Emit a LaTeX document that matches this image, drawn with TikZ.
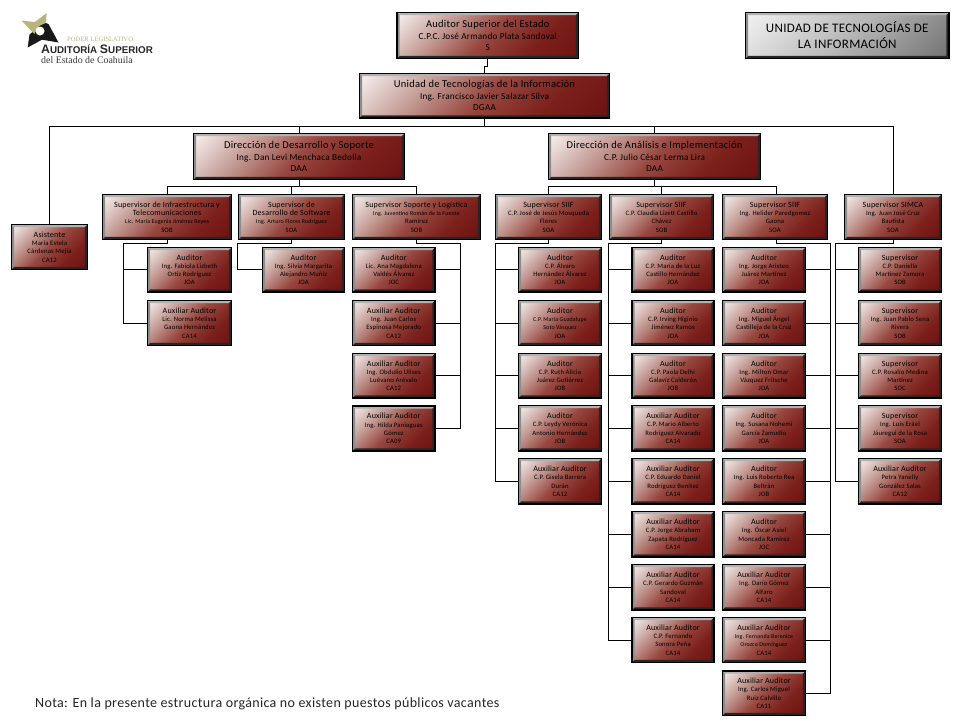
\documentclass[tikz,border=0pt]{standalone}
\usepackage{fontspec}
\setmainfont{Carlito}[LetterSpace=2.5]
\newfontfamily\logoserif{Liberation Serif}
\newfontfamily\logosans{Liberation Sans}
\usepackage{xcolor}
\definecolor{grA}{HTML}{F8F2F1}
\definecolor{grB}{HTML}{C39A93}
\definecolor{grC}{HTML}{984840}
\definecolor{grD}{HTML}{7C201C}
\definecolor{grE}{HTML}{6C1210}
\definecolor{logoOlive}{HTML}{B7B47C}
\definecolor{logoText}{HTML}{3A3A3A}
\pgfdeclarehorizontalshading{redgrad}{100bp}{color(0bp)=(grA); color(15bp)=(grA); color(34bp)=(grB); color(50bp)=(grC); color(68bp)=(grD); color(85bp)=(grE); color(100bp)=(grE)}
\pgfdeclarehorizontalshading{graygrad}{100bp}{color(0bp)=(white!95!black); color(15bp)=(white!95!black); color(50bp)=(black!28); color(85bp)=(black!55); color(100bp)=(black!55)}
\tikzset{
  bevel/.style={path picture={
    \fill[black!30] (path picture bounding box.north west) -- (path picture bounding box.north east) -- ([shift={(-2.6pt,-2.6pt)}]path picture bounding box.north east) -- ([shift={(2.6pt,-2.6pt)}]path picture bounding box.north west) -- cycle;
    \fill[black!45] (path picture bounding box.north west) -- (path picture bounding box.south west) -- ([shift={(2.6pt,2.6pt)}]path picture bounding box.south west) -- ([shift={(2.6pt,-2.6pt)}]path picture bounding box.north west) -- cycle;
    \fill[black!85] (path picture bounding box.south west) -- (path picture bounding box.south east) -- ([shift={(-2.6pt,2.6pt)}]path picture bounding box.south east) -- ([shift={(2.6pt,2.6pt)}]path picture bounding box.south west) -- cycle;
    \fill[black!85] (path picture bounding box.north east) -- (path picture bounding box.south east) -- ([shift={(-2.6pt,2.6pt)}]path picture bounding box.south east) -- ([shift={(-2.6pt,-2.6pt)}]path picture bounding box.north east) -- cycle;
  }},
  orgbox/.style={draw=black,line width=1.1pt,shading=redgrad,shading angle=-45,inner sep=0pt,align=center,text=black,bevel,font=\fontsize{6.7}{8.2}\selectfont},
  bigbox/.style={orgbox,font=\fontsize{9.2}{11.6}\selectfont},
  graybox/.style={draw=black,line width=1.1pt,shading=graygrad,shading angle=-45,inner sep=0pt,align=center,text=black,bevel,font=\fontsize{13}{16}\selectfont},
  conn/.style={draw=black,line width=0.95pt,line join=miter}
}
% box given by its pixel edges
\newcommand\ob[7][orgbox]{\node[#1,minimum width={(#5-#3)*1pt},minimum height={(#6-#4)*1pt}] (#2) at ({(#3+#5)/2},{(#4+#6)/2}) {#7};}
\newcommand\ttl[1]{{\fontsize{8}{8.2}\selectfont #1}}
\newcommand\bigt[1]{{\fontsize{10.5}{11.6}\selectfont #1}}
\newcommand\nrw[1]{{\fontsize{5.9}{8.2}\selectfont #1}}
\begin{document}
\begin{tikzpicture}[x=1pt,y=-1pt]
\fill[white] (0,0) rectangle (960,720);
\useasboundingbox (0,0) rectangle (960,720);
% logo
\fill[black!90] (43,22) -- (48.5,24) -- (58.5,42.5) -- (42,39.7) -- (27.7,47.5) -- (29.5,34.5) -- (35,30) -- cycle;
\fill[logoOlive] (21.7,20.7) -- (35,22) -- (46.7,13) -- (45.7,23) -- (38.3,26.3) -- (34.3,34) -- cycle;
\fill[white] (40,31) circle (4.5);
\node[inner sep=0pt,anchor=base west,text=logoOlive,font=\logoserif\fontsize{6.6}{7}\selectfont] (lg1) at (67,41) {PODER LEGISLATIVO};
\node[inner sep=0pt,anchor=base west,text=black!85,font=\logosans\bfseries] (lg2) at (41,53.5) {\fontsize{12.3}{12}\selectfont A\fontsize{9.8}{12}\selectfont UDITORÍA \fontsize{12.3}{12}\selectfont S\fontsize{9.8}{12}\selectfont UPERIOR};
\node[inner sep=0pt,anchor=base west,text=logoText,font=\logoserif\fontsize{9.9}{10}\selectfont] (lg3) at (41,63) {del Estado de Coahuila};
% top boxes
\ob[bigbox]{aud}{397}{12.5}{578.5}{58.5}{\bigt{Auditor Superior del Estado}\\C.P.C. José Armando Plata Sandoval\\S}
\ob[bigbox]{uni}{359.5}{73.5}{609.5}{118}{\bigt{Unidad de Tecnologías de la Información}\\Ing. Francisco Javier Salazar Silva\\DGAA}
\ob[bigbox]{dds}{193.5}{133.5}{404.5}{179.5}{\bigt{Dirección de Desarrollo y Soporte}\\Ing. Dan Levi Menchaca Bedolla\\DAA}
\ob[bigbox]{dai}{548.5}{133.5}{760.5}{179.5}{\bigt{Dirección de Análisis e Implementación}\\C.P. Julio César Lerma Lira\\DAA}
\ob[graybox]{tit}{745.5}{12.5}{949}{58.5}{UNIDAD DE TECNOLOGÍAS DE\\LA INFORMACIÓN}
% asistente
\ob{asi}{11.5}{224.5}{87.5}{269.5}{\ttl{Asistente}\\María Estela\\Cárdenas Mejía\\CA12}
% supervisors
\ob{sinf}{102.5}{194.5}{231.5}{239.5}{\ttl{Supervisor de Infraestructura y}\\\ttl{Telecomunicaciones}\\\nrw{Lic. María Eugenia Jiménez Reyes}\\SOB}
\ob{sdes}{238.5}{194.5}{344.5}{239.5}{\ttl{Supervisor de}\\\ttl{Desarrollo de Software}\\\nrw{Ing. Arturo Flores Rodríguez}\\SOA}
\ob{ssop}{352.5}{194.5}{480.5}{239.5}{\ttl{Supervisor Soporte y Logística}\\\nrw{Ing. Juventino Román de la Fuente}\\Ramírez\\SOB}
\ob{ssa}{495.5}{194.5}{601.5}{239.5}{\ttl{Supervisor SIIF}\\C.P. José de Jesús Mosqueda\\Flores\\SOA}
\ob{ssb}{609.5}{194.5}{713.5}{239.5}{\ttl{Supervisor SIIF}\\C.P. Claudia Lizett Castillo\\Chávez\\SOB}
\ob{ssc}{722.5}{194.5}{827.5}{239.5}{\ttl{Supervisor SIIF}\\Ing. Helider Paredgomez\\Gaona\\SOA}
\ob{ssm}{844.5}{194.5}{941.5}{239.5}{\ttl{Supervisor SIMCA}\\Ing. Juan José Cruz\\Bautista\\SOA}
% infraestructura
\ob{a1}{147.5}{247.5}{231.5}{292}{\ttl{Auditor}\\Ing. Fabiola Lizbeth\\Ortiz Rodríguez\\JOA}
\ob{a2}{147.5}{300.5}{231.5}{345.5}{\ttl{Auxiliar Auditor}\\Lic. Norma Melissa\\Gaona Hernández\\CA14}
% desarrollo
\ob{b1}{262.5}{247.5}{344.5}{292}{\ttl{Auditor}\\Ing. Silvia Margarita\\Alejandro Muñiz\\JOA}
% soporte
\ob{c1}{352.5}{247.5}{435}{292}{\ttl{Auditor}\\Lic. Ana Magdalena\\Valdés Álvarez\\JOC}
\ob{c2}{352.5}{300.5}{435}{345.5}{\ttl{Auxiliar Auditor}\\Ing. Juan Carlos\\Espinosa Mejorado\\CA12}
\ob{c3}{352.5}{353.5}{435}{398}{\ttl{Auxiliar Auditor}\\Ing. Obdulio Ulises\\Luévano Arévalo\\CA12}
\ob{c4}{352.5}{406}{435}{451}{\ttl{Auxiliar Auditor}\\Ing. Hilda Paniaguas\\Gómez\\CA09}
% SIIF 1
\ob{d1}{518.5}{247.5}{601.5}{292}{\ttl{Auditor}\\C.P. Álvaro\\Hernández Álvarez\\JOA}
\ob{d2}{518.5}{300.5}{601.5}{345.5}{\ttl{Auditor}\\\nrw{C.P. María Guadalupe}\\\nrw{Soto Vásquez}\\JOA}
\ob{d3}{518.5}{353.5}{601.5}{398}{\ttl{Auditor}\\C.P. Ruth Alicia\\Juárez Gutiérrez\\JOB}
\ob{d4}{518.5}{405.5}{601.5}{451}{\ttl{Auditor}\\C.P. Leydy Verónica\\Antonio Hernández\\JOB}
\ob{d5}{518.5}{458.5}{601.5}{504}{\ttl{Auxiliar Auditor}\\C.P. Gisela Barrera\\Durán\\CA12}
% SIIF 2
\ob{e1}{632}{247.5}{714}{292}{\ttl{Auditor}\\C.P. María de la Luz\\Castillo Hernández\\JOA}
\ob{e2}{632}{300.5}{714}{345.5}{\ttl{Auditor}\\C.P. Irving Higinio\\Jiménez Ramos\\JOA}
\ob{e3}{632}{353.5}{714}{398}{\ttl{Auditor}\\C.P. Paola Delhi\\Galavíz Calderón\\JOB}
\ob{e4}{632}{405.5}{714}{451}{\ttl{Auxiliar Auditor}\\C.P. Mario Alberto\\Rodríguez Alvarado\\CA14}
\ob{e5}{632}{458.5}{714}{504}{\ttl{Auxiliar Auditor}\\C.P. Eduardo Daniel\\Rodríguez Benítez\\CA14}
\ob{e6}{632}{511.5}{714}{557}{\ttl{Auxiliar Auditor}\\C.P. Jorge Abraham\\Zapata Rodríguez\\CA14}
\ob{e7}{632}{564.5}{714}{610}{\ttl{Auxiliar Auditor}\\C.P. Gerardo Guzmán\\Sandoval\\CA14}
\ob{e8}{632}{617.5}{714}{662.5}{\ttl{Auxiliar Auditor}\\C.P. Fernando\\Sonora Peña\\CA14}
% SIIF 3
\ob{f1}{722.5}{247.5}{805.5}{292}{\ttl{Auditor}\\Ing. Jorge Aristeo\\Juárez Martínez\\JOA}
\ob{f2}{722.5}{300.5}{805.5}{345.5}{\ttl{Auditor}\\Ing. Miguel Ángel\\Castilleja de la Cruz\\JOA}
\ob{f3}{722.5}{353.5}{805.5}{398}{\ttl{Auditor}\\Ing. Milton Omar\\Vázquez Fritsche\\JOA}
\ob{f4}{722.5}{405.5}{805.5}{451}{\ttl{Auditor}\\Ing. Susana Nohemí\\García Zamudio\\JOA}
\ob{f5}{722.5}{458.5}{805.5}{504}{\ttl{Auditor}\\Ing. Luis Roberto Rea\\Beltrán\\JOB}
\ob{f6}{722.5}{511.5}{805.5}{557}{\ttl{Auditor}\\Ing. Óscar Asiel\\Moncada Ramírez\\JOC}
\ob{f7}{722.5}{564.5}{805.5}{610}{\ttl{Auxiliar Auditor}\\Ing. Darío Gómez\\Alfaro\\CA14}
\ob{f8}{722.5}{617.5}{805.5}{662.5}{\ttl{Auxiliar Auditor}\\\nrw{Ing. Fernanda Berenice}\\\nrw{Orozco Domínguez}\\CA14}
\ob{f9}{722.5}{671}{805.5}{715.5}{\ttl{Auxiliar Auditor}\\Ing. Carlos Miguel\\Ruiz Calvillo\\CA11}
% SIMCA
\ob{g1}{858.5}{247.5}{941.5}{292}{\ttl{Supervisor}\\C.P. Daniella\\Martínez Zamora\\SOB}
\ob{g2}{858.5}{300.5}{941.5}{345.5}{\ttl{Supervisor}\\Ing. Juan Pablo Sena\\Rivera\\SOB}
\ob{g3}{858.5}{353.5}{941.5}{398}{\ttl{Supervisor}\\C.P. Rosalío Medina\\Martínez\\SOC}
\ob{g4}{858.5}{405.5}{941.5}{451}{\ttl{Supervisor}\\Ing. Luis Eráel\\Jáuregui de la Rosa\\SOA}
\ob{g5}{858.5}{458.5}{941.5}{504}{\ttl{Auxiliar Auditor}\\Petra Yanelly\\González Salas\\CA12}
% nota
\node[inner sep=0pt,anchor=base west,text=black!85,font=\fontsize{14}{16}\selectfont] (nota) at (35,707) {Nota: En la presente estructura orgánica no existen puestos públicos vacantes};
% bus and trunk coordinates
\coordinate (jog) at (486,66.5);
\coordinate (bus) at (485,126.5);
\coordinate (busL) at (299,186.5);
\coordinate (busR) at (654,186.5);
\coordinate (tA) at (123.5,243.5);
\coordinate (tB) at (237.5,243.5);
\coordinate (tC) at (460.5,243.5);
\coordinate (tD) at (495.5,243.5);
\coordinate (tE) at (608.5,243.5);
\coordinate (tF) at (830.5,243.5);
\coordinate (tG) at (835.5,243.5);
% connectors
\draw[conn] (aud.south) |- (jog) -| (uni.north);
\draw[conn] (uni.south) |- (bus) -| (asi.north);
\draw[conn] (uni.south) |- (bus) -| (dds.north);
\draw[conn] (uni.south) |- (bus) -| (dai.north);
\draw[conn] (uni.south) |- (bus) -| (ssm.north);
\foreach \s in {sinf,sdes,ssop} \draw[conn] (dds.south) |- (busL) -| (\s.north);
\foreach \s in {ssa,ssb} \draw[conn] (dai.south) |- (busR) -| (\s.north);
\draw[conn] (dai.south) |- (busR) -| ([xshift=1.5pt]ssc.north);
\foreach \c in {a1,a2} \draw[conn] (sinf.south) |- (tA) |- (\c.west);
\draw[conn] (sdes.south) |- (tB) |- (b1.west);
\foreach \c in {c1,c2,c3,c4} \draw[conn] (ssop.south) |- (tC) |- (\c.east);
\foreach \c in {d1,d2,d3,d4,d5} \draw[conn] (ssa.south) |- (tD) |- (\c.west);
\foreach \c in {e1,e2,e3,e4,e5,e6,e7,e8} \draw[conn] (ssb.south) |- (tE) |- (\c.west);
\foreach \c in {f1,f2,f3,f4,f5,f6,f7,f8,f9} \draw[conn] ([xshift=1.5pt]ssc.south) |- (tF) |- (\c.east);
\foreach \c in {g1,g2,g3,g4,g5} \draw[conn] (ssm.south) |- (tG) |- (\c.west);
\end{tikzpicture}
\end{document}
